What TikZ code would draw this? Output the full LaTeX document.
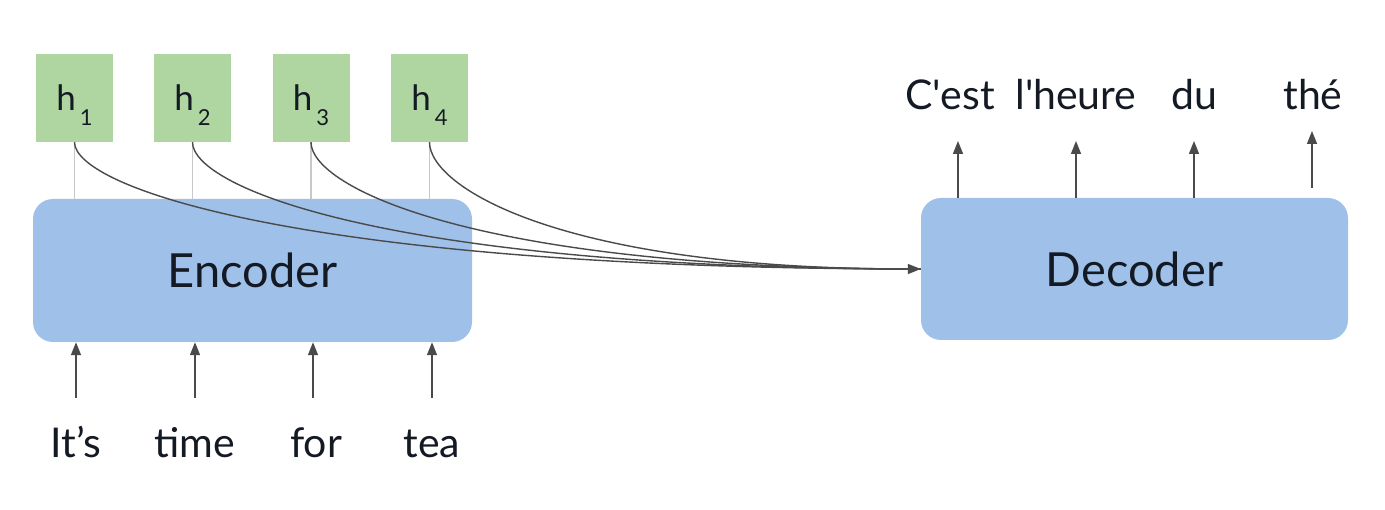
\documentclass[tikz,border=0pt]{standalone}
\usepackage{fontspec}
\setmainfont{Lato}
\usetikzlibrary{arrows.meta,calc}
\definecolor{encblue}{HTML}{9FC0E8}
\definecolor{hgreen}{HTML}{AFD6A1}
\definecolor{arrgray}{HTML}{4A4A4A}
\definecolor{linegray}{HTML}{C8C8C8}
\definecolor{txt}{HTML}{141A24}
\begin{document}
\begin{tikzpicture}[x=1pt,y=-1pt,
  block/.style={fill=encblue, rounded corners=20pt, inner sep=0pt, text=txt, font=\fontsize{47}{47}\selectfont},
  hbox/.style={fill=hgreen, minimum width=77pt, minimum height=88pt, inner sep=0pt, font=\fontsize{35}{35}\selectfont, text=txt},
  word/.style={anchor=base, font=\fontsize{41}{41}\selectfont, text=txt, inner sep=0pt},
  arr/.style={draw=arrgray, line width=1.5pt, -{Triangle[length=13pt,width=10pt]}},
  attn/.style={draw=arrgray, line width=1.4pt},
  conn/.style={draw=linegray, line width=1.5pt}]
\useasboundingbox (0,0) rectangle (1385,510);

\node[block, minimum width=439pt, minimum height=143pt] (enc) at (252.5,270.5) {Encoder};
\node[block, minimum width=427pt, minimum height=142pt] (dec) at (1134.5,269) {Decoder};

\node[hbox] (h1) at (74.5,98) {h\kern4pt\smash{\raisebox{-15pt}{\fontsize{22}{22}\selectfont 1}}};
\node[hbox] (h2) at (192.5,98) {h\kern4pt\smash{\raisebox{-15pt}{\fontsize{22}{22}\selectfont 2}}};
\node[hbox] (h3) at (311,98) {h\kern4pt\smash{\raisebox{-15pt}{\fontsize{22}{22}\selectfont 3}}};
\node[hbox] (h4) at (429.5,98) {h\kern4pt\smash{\raisebox{-15pt}{\fontsize{22}{22}\selectfont 4}}};

\foreach \i in {1,2,3,4}{
  \draw[conn] (h\i.south) -- (h\i.south |- enc.north);
}

\draw[attn] (h1.south) .. controls ($(h1.south)+(0,45)$) and ($(dec.west)+(-619,0)$) .. (dec.west);
\draw[attn] (h2.south) .. controls ($(h2.south)+(0,45)$) and ($(dec.west)+(-533,0)$) .. (dec.west);
\draw[attn] (h3.south) .. controls ($(h3.south)+(0,45)$) and ($(dec.west)+(-446,0)$) .. (dec.west);
\draw[attn,-{Triangle[length=13pt,width=10pt]}] (h4.south) .. controls ($(h4.south)+(0,45)$) and ($(dec.west)+(-360,0)$) .. (dec.west);

% inputs
\coordinate (i1) at (76,398);
\coordinate (i2) at (195,398);
\coordinate (i3) at (313,398);
\coordinate (i4) at (432,398);
\foreach \i in {1,2,3,4}{
  \draw[arr] (i\i) -- (i\i |- enc.south);
}
\node[word] (x1) at (76,458) {It’s};
\node[word] (x2) at (195,458) {time};
\node[word] (x3) at (316,458) {for};
\node[word] (x4) at (432,458) {tea};

% outputs
\coordinate (o1) at (958,141);
\coordinate (o2) at (1076,141);
\coordinate (o3) at (1194,141);
\coordinate (o4) at (1312,131);
\coordinate (o4s) at (1312,188);
\draw[arr] (o1 |- dec.north) -- (o1);
\draw[arr] (o2 |- dec.north) -- (o2);
\draw[arr] (o3 |- dec.north) -- (o3);
\draw[arr] (o4s) -- (o4);
\node[word] (y1) at (950,110) {C\textquotesingle est};
\node[word] (y2) at (1076,110) {l\textquotesingle heure};
\node[word] (y3) at (1194,110) {du};
\node[word] (y4) at (1313,110) {thé};
\end{tikzpicture}
\end{document}
